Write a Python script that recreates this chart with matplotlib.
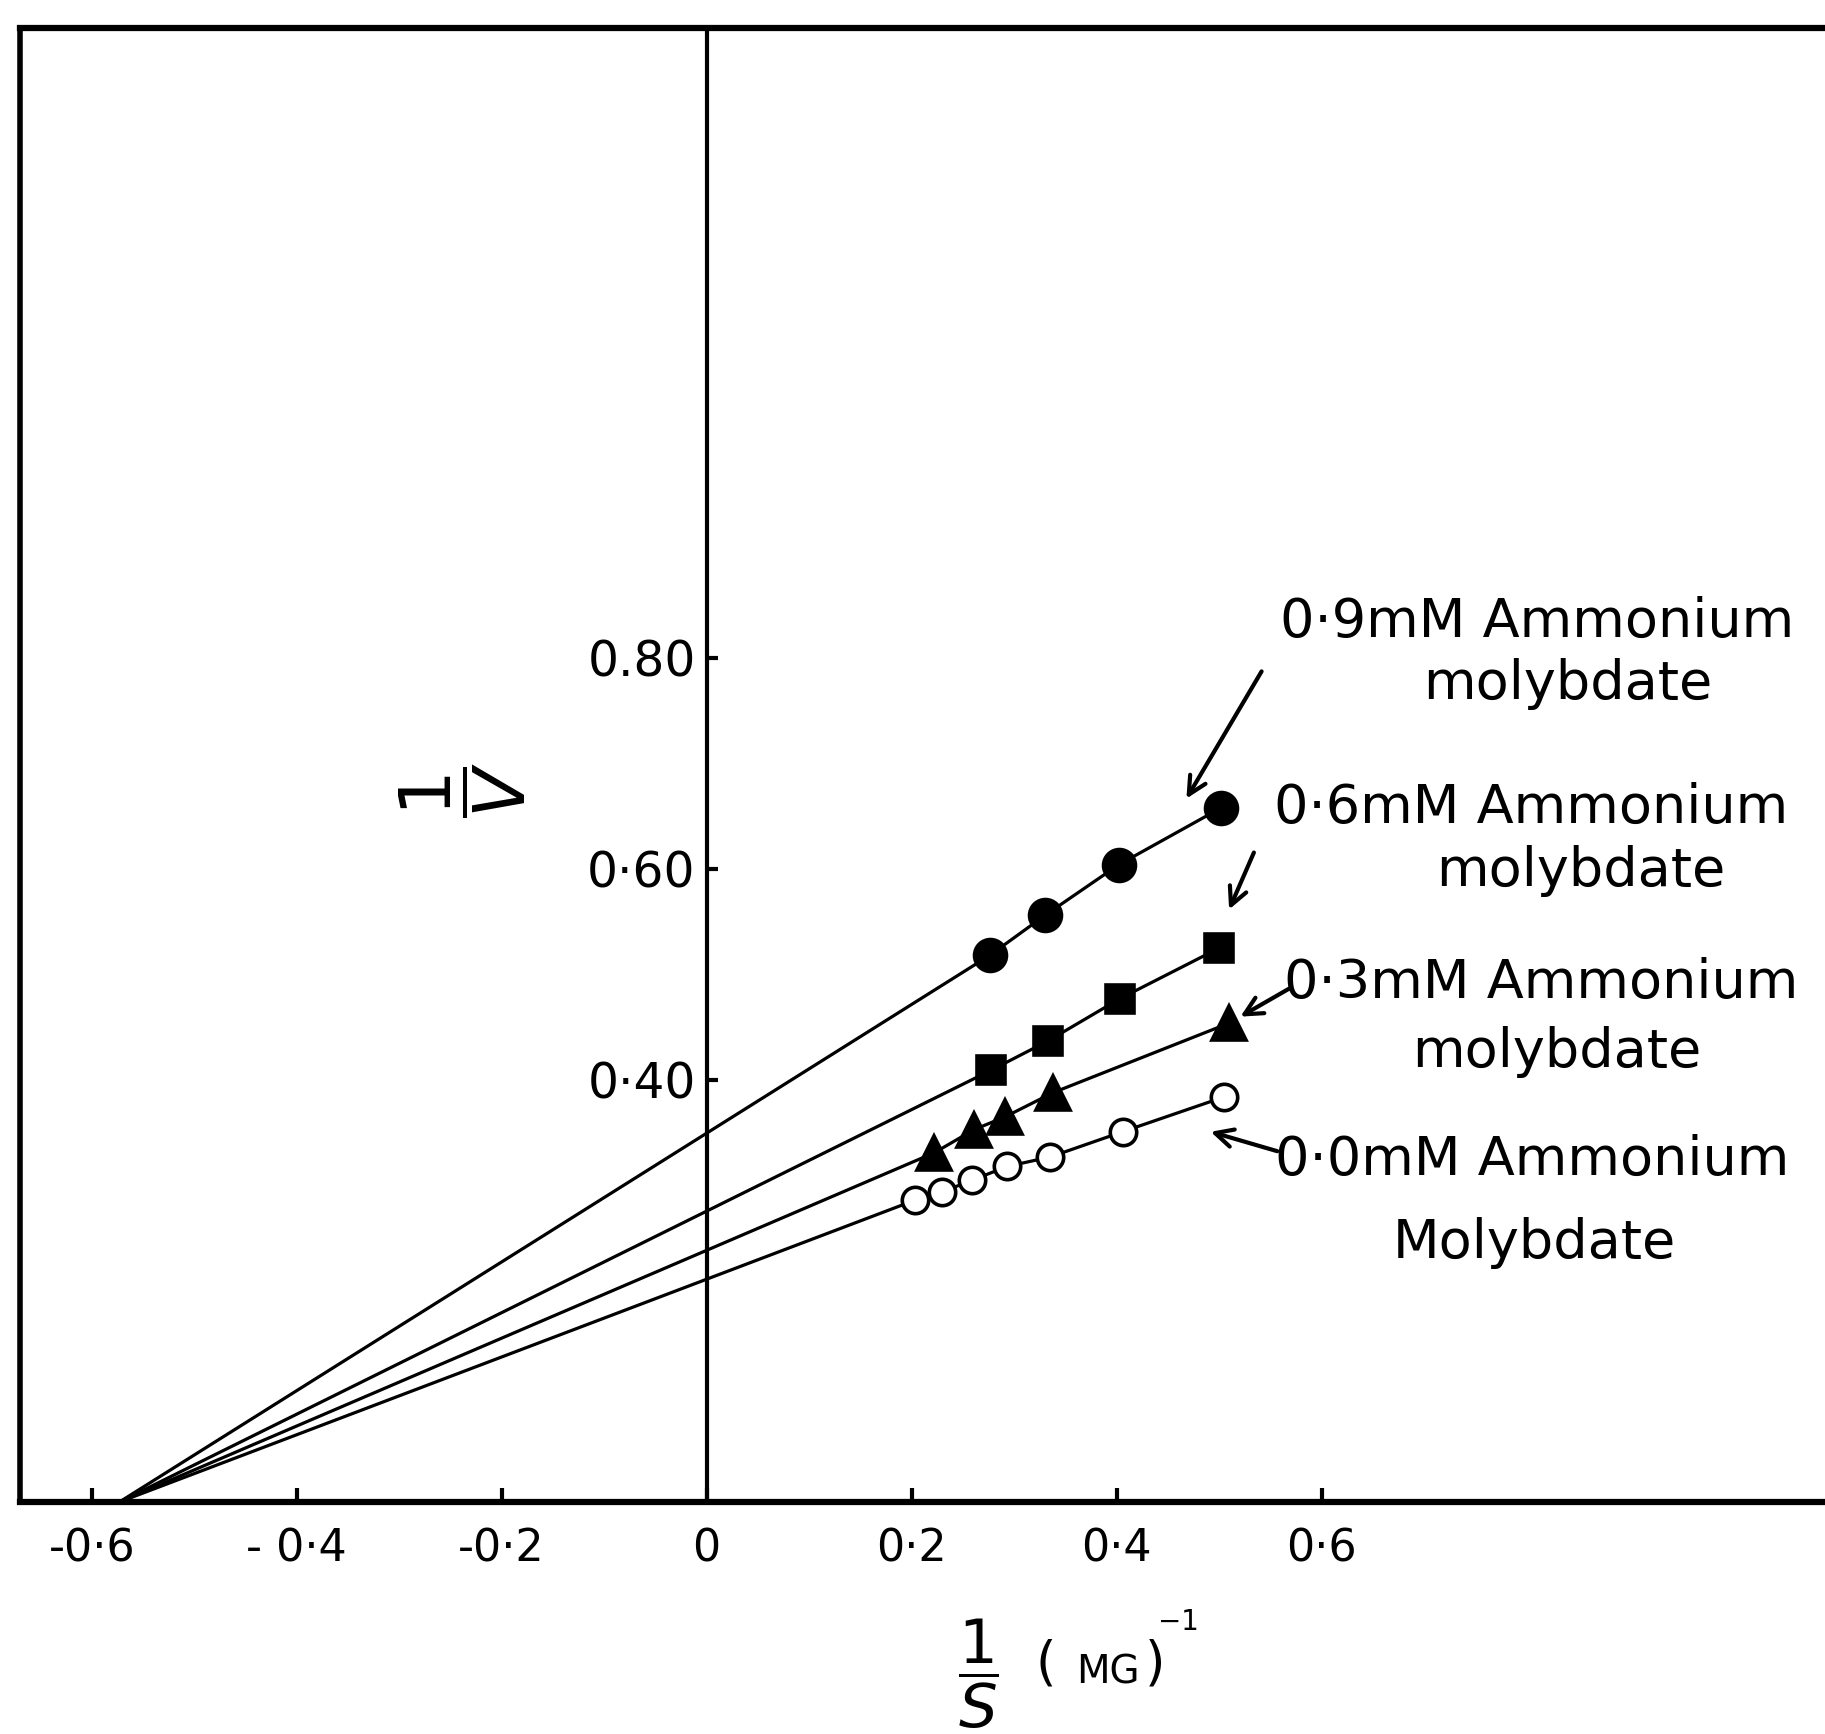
import matplotlib
matplotlib.use("Agg")
import matplotlib.pyplot as plt
from matplotlib.patches import FancyArrowPatch

plt.rcParams['font.family'] = ['DejaVu Sans']
plt.rcParams['mathtext.fontset'] = 'dejavusans'

# ---- data ----
x_intercept = -0.573          # common point on the 1/S axis where all lines meet
s09_x = [0.276, 0.330, 0.402, 0.502]
s09_y = [0.518, 0.556, 0.604, 0.658]
s06_x = [0.277, 0.333, 0.403, 0.500]
s06_y = [0.409, 0.437, 0.477, 0.525]
s03_x = [0.222, 0.261, 0.291, 0.338, 0.510]
s03_y = [0.331, 0.353, 0.365, 0.388, 0.454]
s00_x = [0.203, 0.230, 0.259, 0.293, 0.335, 0.406, 0.505]
s00_y = [0.286, 0.294, 0.305, 0.318, 0.327, 0.351, 0.384]

xtick_vals = [-0.6, -0.4, -0.2, 0.0, 0.2, 0.4, 0.6]
xtick_labels = ['-0·6', '- 0·4', '-0·2', '0', '0·2', '0·4', '0·6']
ytick_vals = [0.40, 0.60, 0.80]
ytick_labels = ['0·40', '0·60', '0.80']

label_line1 = ['0·9mM Ammonium', '0·6mM Ammonium', '0·3mM Ammonium', '0·0mM Ammonium']
label_line2 = ['molybdate', 'molybdate', 'molybdate', 'Molybdate']

W, H = 1825, 1734
fig = plt.figure(figsize=(W / 100, H / 100), dpi=100)
fig.patch.set_facecolor('white')

def fx(px):
    return px / W

def fy(py):
    return 1 - py / H

ax = fig.add_axes([fx(20), fy(1502), fx(1825) - fx(20), fy(28) - fy(1502)])
ax.set_xlim(-0.670, 1.091)
ax.set_ylim(0.0, 1.397)

# frame: left border (right spine moved to the left edge), top border, x axis, y axis at 0
ax.spines['left'].set_position(('data', 0))
ax.spines['left'].set_linewidth(3.0)
ax.spines['right'].set_position(('axes', 0.0))
ax.spines['right'].set_linewidth(4.0)
ax.spines['top'].set_linewidth(4.5)
ax.spines['bottom'].set_linewidth(4.5)
for s in ax.spines.values():
    s.set_color('black')

ax.yaxis.set_ticks_position('left')
ax.xaxis.set_ticks_position('bottom')
ax.set_yticks(ytick_vals)
ax.set_yticklabels(ytick_labels)
ax.set_xticks(xtick_vals)
ax.set_xticklabels(xtick_labels)
ax.tick_params(axis='y', direction='in', length=8, width=3, labelsize=35, pad=8)
ax.tick_params(axis='x', direction='in', length=10, width=3, labelsize=32, pad=18)

lw = 2.3
series = [
    (s09_x, s09_y, 'o', 'black', 23),
    (s06_x, s06_y, 's', 'black', 20),
    (s03_x, s03_y, '^', 'black', 25),
    (s00_x, s00_y, 'o', 'white', 19),
]
for xs, ys, mk, fc, ms in series:
    ax.plot([x_intercept] + xs, [0.0] + ys, color='black', lw=lw, zorder=2)
    ax.plot(xs, ys, ls='none', marker=mk, markersize=ms, markerfacecolor=fc,
            markeredgecolor='black', markeredgewidth=2.6, zorder=3)

# labels (positions in figure pixels, measured from top-left; baselines)
line1_pos = [(1537, 637), (1531, 823), (1541, 998), (1532, 1175)]
line2_pos = [(1568, 699), (1581, 886), (1557, 1067), (1534, 1258)]
for (px, py), s in zip(line1_pos, label_line1):
    fig.text(fx(px), fy(py), s, ha='center', va='baseline', fontsize=39)
for (px, py), s in zip(line2_pos, label_line2):
    fig.text(fx(px), fy(py), s, ha='center', va='baseline', fontsize=39)

arrows = [((1263, 669), (1185, 801)),
          ((1255, 850), (1228, 912)),
          ((1292, 987), (1238, 1018)),
          ((1280, 1152), (1208, 1131))]
for (sx, sy), (ex, ey) in arrows:
    fig.add_artist(FancyArrowPatch(
        (fx(sx), fy(sy)), (fx(ex), fy(ey)), transform=fig.transFigure,
        arrowstyle='->', mutation_scale=32, lw=3.0, color='black'))

# axis titles
fig.text(fx(463), fy(790), r'$\dfrac{1}{V}$', rotation=90, ha='center', va='center',
         fontsize=52)
fig.text(fx(978), fy(1674), r'$\dfrac{1}{S}$', ha='center', va='center', fontsize=44)
fig.text(fx(1036), fy(1680), '(', ha='left', va='baseline', fontsize=38)
fig.text(fx(1076), fy(1683), 'MG', ha='left', va='baseline', fontsize=28)
fig.text(fx(1145), fy(1680), ')', ha='left', va='baseline', fontsize=38)
fig.text(fx(1158), fy(1630), '−1', ha='left', va='baseline', fontsize=20)

fig.savefig('out.png', dpi=100, facecolor='white')
